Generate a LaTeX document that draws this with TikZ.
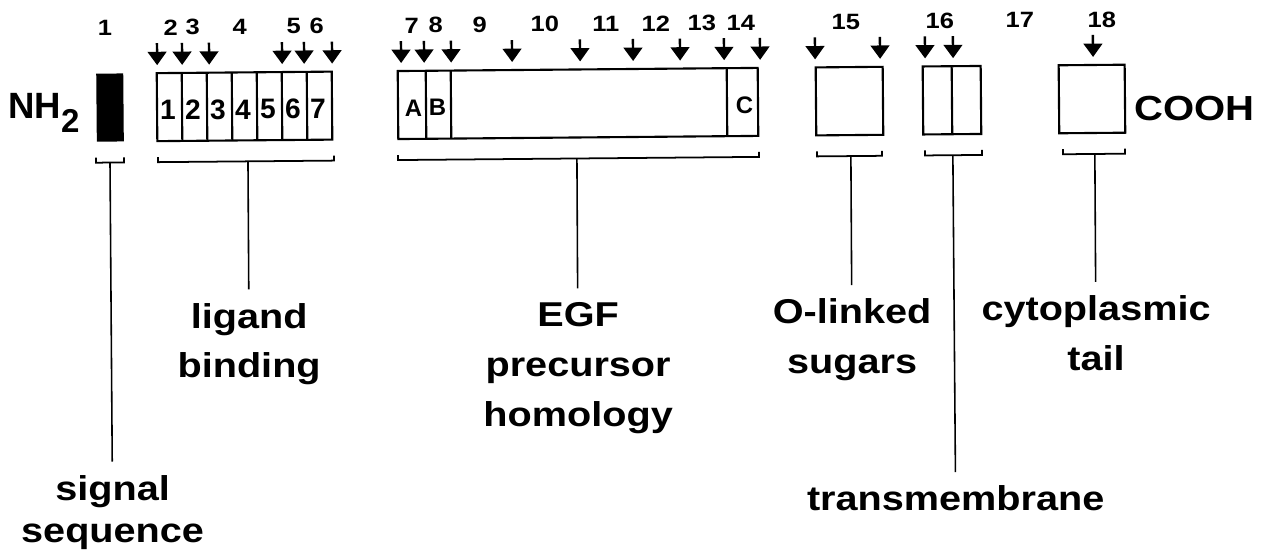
\documentclass[tikz,border=0pt]{standalone}
\usepackage{fontspec}
\setmainfont{Liberation Sans}
\newfontfamily\widefont{Liberation Sans}[FakeStretch=1.15]
\usetikzlibrary{arrows.meta}

\tikzset{
  boxline/.style={line width=0.6pt},
  intron/.style={line width=0.7pt, -{Triangle[width=5.3pt,length=3.8pt]}},
  exon/.style={font=\widefont\bfseries\fontsize{6.3pt}{7pt}\selectfont, inner sep=0pt},
  cell/.style={font=\bfseries\fontsize{8pt}{9pt}\selectfont, inner sep=0pt},
  rpt/.style={font=\bfseries\fontsize{6.8pt}{8pt}\selectfont, inner sep=0pt},
  brace/.style={line width=0.5pt},
  lead/.style={line width=0.45pt},
  region/.style={font=\widefont\bfseries\fontsize{9.8pt}{14.2pt}\selectfont,
    align=center, anchor=north, inner xsep=0pt, inner ysep=3.7pt},
  terminus/.style={font=\bfseries\fontsize{10.4pt}{12pt}\selectfont,
    inner sep=0pt, anchor=base west},
}

\begin{document}
\begin{tikzpicture}[x=0.01cm, y=-0.01cm]
  \useasboundingbox (0,0) rectangle (1266,552);
  \begin{scope}[rotate around={0.5:(633,276)}]
    % ends of the chain
    \node[terminus] (nh) at (9,113) {NH\raisebox{-4pt}{\fontsize{9.4pt}{9pt}\selectfont 2}};
    \node[terminus, font=\widefont\bfseries\fontsize{9.9pt}{10pt}\selectfont] (cooh) at (1135,125) {COOH};

    % domains
    \fill (98,69) rectangle (125,137);
    \draw[boxline] (158.5,69) rectangle (333.5,137);
    \foreach \x in {183.5,208.5,...,308.5}
      \draw[boxline] (\x,69) -- (\x,137);
    \draw[boxline] (399.5,69) rectangle (759.5,137);
    \foreach \x in {427.5,452.5,728.5}
      \draw[boxline] (\x,69) -- (\x,137);
    \draw[boxline] (817.5,69) rectangle (884.5,137);
    \draw[boxline] (924.5,69) rectangle (982.5,137);
    \draw[boxline] (953.5,69) -- (953.5,137);
    \draw[boxline] (1060.5,69) rectangle (1126.5,137);

    % repeats
    \foreach \i in {1,...,7}
      \node[cell] (c\i) at ({144.5+25*\i},106) {\i};
    \node[rpt] (ra) at (415,106) {A};
    \node[rpt] (rb) at (439,106) {B};
    \node[rpt] (rc) at (746,106) {C};

    % introns
    \foreach \x in {159,184,211,284,306,334,403,426,453,514,582,635,682,726,762,817,882,927,955,1095}
      \draw[intron] (\x,39) -- (\x,61);

    % exons
    \foreach \n/\x in {1/107,2/173,3/195,4/242,5/296,6/319,7/414,8/438,9/482,
        10/547,11/608,12/658,13/704,14/743,15/848,16/942,17/1022,18/1104}
      \node[exon] (e\n) at (\x,23.5) {\n};

    % brackets
    \draw[brace] (97,153) |- (125,158) -- (125,153);
    \draw[brace] (159,153) |- (335,158) -- (335,153);
    \draw[brace] (399,153) |- (760,158) -- (760,153);
    \draw[brace] (818,153) |- (883,158) -- (883,153);
    \draw[brace] (926,153) |- (983,158) -- (983,153);
    \draw[brace] (1064,153) |- (1126,158) -- (1126,153);
    \coordinate (bsig) at (111,158);
    \coordinate (blig) at (249,158);
    \coordinate (begf) at (578,158);
    \coordinate (bolink) at (852,158);
    \coordinate (btm) at (954,158);
    \coordinate (btail) at (1096,158);

    % regions
    \node[region] (sig) at (111,457) {signal\\[-2.3pt]sequence};
    \node[region] (lig) at (249,286) {ligand\\binding};
    \node[region] (egf) at (578,288) {EGF\\precursor\\homology};
    \node[region] (olink) at (852,287) {O-linked\\sugars};
    \node[region] (tm) at (954,475) {transmembrane};
    \node[region] (tail) at (1096,286) {cytoplasmic\\tail};

    \draw[lead] (bsig) -- (sig);
    \draw[lead] (blig) -- (lig);
    \draw[lead] (begf) -- (egf);
    \draw[lead] (bolink) -- (olink);
    \draw[lead] (btm) -- (tm);
    \draw[lead] (btail) -- (tail);
  \end{scope}
\end{tikzpicture}
\end{document}
